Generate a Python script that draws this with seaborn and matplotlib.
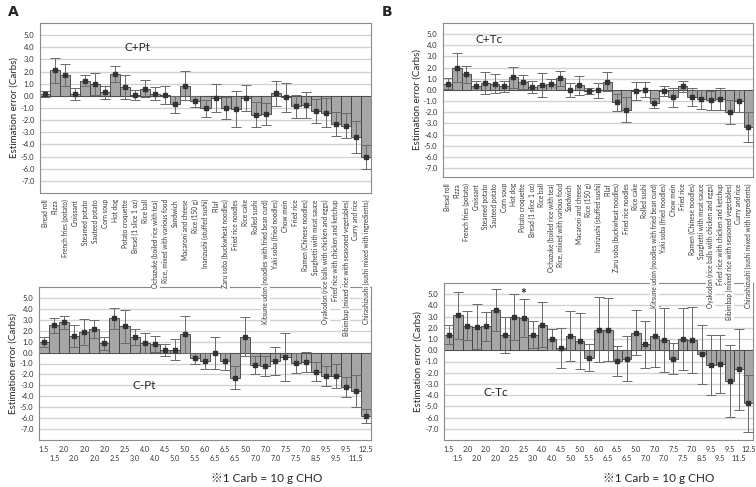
import numpy as np
import pandas as pd
import matplotlib
matplotlib.use("Agg")
import matplotlib.pyplot as plt
import seaborn as sns

foods = ["Bread roll", "Pizza", "French fries (potato)", "Croissant", "Steamed potato",
         "Sauteed potato", "Corn soup", "Hot dog", "Potato croquette", "Bread (1 slice 1 oz)",
         "Rice ball", "Ochazuke (boiled rice with tea)", "Rice, mixed with various food",
         "Sandwich", "Macaroni and cheese", "Rice (150 g)", "Inarizushi (stuffed sushi)", "Pilaf",
         "Zaru soba (buckwheat noodles)", "Fried rice noodles", "Rice cake", "Rolled sushi",
         "Kitsune udon (noodles with fried bean curd)", "Yaki soba (fried noodles)", "Chow mein",
         "Fried rice", "Ramen (Chinese noodles)", "Spaghetti with meat sauce",
         "Oyakodon (rice balls with chicken and eggs)", "Fried rice with chicken and ketchup",
         "Bibimbap (mixed rice with seasoned vegetables)", "Curry and rice",
         "Chirashizushi (sushi mixed with ingredients)"]

carbs = [1.5, 1.5, 2.0, 2.0, 2.0, 2.0, 2.0, 2.5, 2.5, 3.0, 4.0, 4.0, 4.5, 5.0, 5.0, 5.5, 6.0,
         6.5, 6.5, 6.5, 5.0, 7.0, 7.0, 7.0, 7.5, 7.5, 7.0, 8.5, 9.5, 9.5, 9.5, 11.5, 12.5]

# C+Pt
cpt_mean = [0.15, 2.1, 1.75, 0.15, 1.25, 1.0, 0.28, 1.8, 0.72, 0.05, 0.58, 0.17, 0.06, -0.68,
            0.82, -0.43, -1.03, -0.18, -1.0, -1.1, -0.18, -1.55, -1.5, 0.2, -0.13, -0.87, -0.75,
            -1.25, -1.38, -2.3, -2.45, -3.38, -5.02]
cpt_err = [0.25, 1.0, 0.9, 0.5, 0.45, 0.9, 0.5, 0.65, 1.0, 0.4, 0.7, 0.55, 0.75, 0.7, 1.2, 0.45,
           0.7, 1.12, 0.92, 1.5, 1.1, 1.05, 0.93, 1.05, 1.17, 0.97, 1.05, 1.0, 1.2, 1.0, 1.05,
           1.35, 1.0]

# C-Pt
cmpt_mean = [1.0, 2.48, 2.78, 1.48, 1.87, 2.17, 0.84, 3.15, 2.42, 1.39, 0.87, 0.8, 0.23, 0.26,
             1.66, -0.53, -0.74, -0.07, -0.8, -2.3, 1.45, -1.14, -1.2, -0.77, -0.38, -0.98,
             -0.86, -1.74, -2.17, -2.17, -3.11, -3.5, -5.8]
cmpt_err = [0.45, 0.72, 0.6, 1.0, 1.2, 0.85, 0.57, 0.95, 1.5, 0.73, 0.93, 0.72, 0.57, 0.95, 1.7,
            0.5, 0.74, 1.45, 0.8, 1.05, 1.8, 0.8, 0.9, 1.3, 2.2, 0.9, 0.9, 0.9, 0.9, 1.1, 0.92,
            1.48, 0.6]

# C+Tc
ctc_mean = [0.55, 1.99, 1.39, 0.37, 0.64, 0.55, 0.31, 1.12, 0.73, 0.25, 0.43, 0.49, 1.03, 0.01,
            0.4, -0.07, -0.03, 0.73, -1.12, -1.78, -0.1, 0.04, -1.15, -0.07, -0.64, 0.34, -0.64,
            -0.85, -0.94, -0.82, -2.01, -0.97, -3.33]
ctc_err = [0.5, 1.3, 0.8, 0.4, 1.0, 0.85, 0.5, 0.9, 0.65, 0.53, 1.05, 0.45, 0.65, 0.62, 0.87,
           0.27, 0.65, 0.85, 0.75, 1.12, 0.82, 0.7, 0.45, 0.45, 0.85, 0.5, 0.8, 0.85, 0.85, 1.0,
           1.07, 1.0, 1.35]

# C-Tc
cmtc_mean = [1.4, 3.14, 2.2, 2.11, 2.14, 3.61, 1.4, 2.94, 2.88, 1.37, 2.28, 0.99, 0.22, 1.28,
             0.81, -0.66, 1.82, 1.82, -0.96, -0.75, 1.58, 0.52, 1.23, 0.9, -0.75, 0.99, 0.93,
             -0.37, -1.31, -1.25, -2.76, -1.69, -4.73]
cmtc_err = [0.87, 2.1, 1.27, 2.0, 1.3, 1.85, 1.6, 2.05, 1.7, 1.2, 2.0, 0.95, 1.8, 2.2, 2.5, 1.2,
            2.9, 2.8, 1.35, 2.0, 2.0, 2.1, 2.7, 2.85, 1.4, 2.75, 2.95, 2.6, 2.7, 2.6, 3.2, 3.6,
            2.55]

sns.set_style("white")
plt.rcParams['font.family'] = ['Lato', 'DejaVu Sans']

fig = plt.figure(figsize=(7.56, 4.87), dpi=100)

W, H = 756, 487


def make_ax(l, r, t, b, z):
    ax = fig.add_axes([l / W, 1 - b / H, (r - l) / W, (b - t) / H], zorder=z)
    ax.patch.set_alpha(0)
    return ax


def draw(ax, mean, err, ylim, top):
    df = pd.DataFrame({'food': foods, 'val': mean})
    sns.barplot(data=df, x='food', y='val', order=foods, color='#a6a6a6', saturation=1,
                width=1, edgecolor='#3c3c3c', linewidth=0.6, errorbar=None, ax=ax)
    ax.errorbar(np.arange(len(foods)), mean, yerr=err, fmt='s', ms=2.8, color='#333333',
                ecolor='#6a6a6a', elinewidth=0.7, capsize=3.6, capthick=0.7, zorder=4)
    ax.set_xlim(-0.5, len(foods) - 0.5)
    ax.set_ylim(*ylim)
    ax.set_yticks(range(-7, 6))
    ax.set_yticklabels([f"{v:.1f}" for v in range(-7, 6)], fontsize=5.5, color='#333333')
    ax.set_axisbelow(True)
    ax.yaxis.grid(True, color='#d2d2d2', lw=1.0)
    ax.set_ylabel("Estimation error (Carbs)", fontsize=7, labelpad=2)
    ax.set_xlabel("")
    for s in ax.spines.values():
        s.set_color('#8a8a8a')
        s.set_linewidth(0.8)
    ax.tick_params(axis='y', length=2.5, width=0.7, color='#444444', pad=1.5)
    if top:
        ax.set_xticks(range(len(foods)))
        ax.set_xticklabels(foods, rotation=90, fontsize=4.7, color='#333333')
        ax.tick_params(axis='x', length=2.5, width=0.7, color='#444444', pad=2)
        for lbl in ax.get_xticklabels():
            lbl.set_bbox(dict(facecolor='white', edgecolor='none', pad=0.6))
    else:
        # staggered carb labels: even bars on the first row, odd bars on the second
        idx = np.arange(len(carbs))
        ax.set_xticks(idx[::2], [f"{c:.1f}" for c in carbs[::2]], fontsize=5.2, color='#333333')
        ax.set_xticks(idx[1::2], [f"{c:.1f}" for c in carbs[1::2]], minor=True,
                      fontsize=5.2, color='#333333')
        ax.tick_params(axis='x', which='major', length=1.5, width=0.6, color='#666666', pad=2.5)
        ax.tick_params(axis='x', which='minor', length=1.5, width=0.6, color='#666666', pad=9.5)


ax1 = make_ax(40, 371, 23, 193, 3)
draw(ax1, cpt_mean, cpt_err, (-8, 6), True)
ax1.text(7.9, 4.0, "C+Pt", fontsize=8.5, ha='left', va='center')

ax2 = make_ax(39, 371, 287, 440, 1)
draw(ax2, cmpt_mean, cmpt_err, (-8, 6), False)
ax2.text(8.8, -3.0, "C-Pt", fontsize=8.5, ha='left', va='center')

ax3 = make_ax(443, 753, 23, 177, 3)
draw(ax3, ctc_mean, ctc_err, (-7.8, 6), True)
ax3.text(3.0, 4.5, "C+Tc", fontsize=8.5, ha='left', va='center')

ax4 = make_ax(444, 753, 283, 440, 1)
draw(ax4, cmtc_mean, cmtc_err, (-8, 6), False)
ax4.text(3.7, -3.8, "C-Tc", fontsize=8.5, ha='left', va='center')
ax4.text(8, 5.0, "*", fontsize=10, fontweight='bold', ha='center', va='center')

fig.text(8 / W, 1 - 12 / H, "A", fontsize=10, fontweight='bold', va='center', family='DejaVu Sans')
fig.text(382 / W, 1 - 12 / H, "B", fontsize=10, fontweight='bold', va='center', family='DejaVu Sans')

for xc in (267, 659):
    fig.text(xc / W, 1 - 478 / H, "※1 Carb = 10 g CHO", fontsize=8.5, ha='center', va='center',
             family=['Lato', 'Noto Sans CJK JP', 'DejaVu Sans'])

fig.savefig("out.png", dpi=100)
